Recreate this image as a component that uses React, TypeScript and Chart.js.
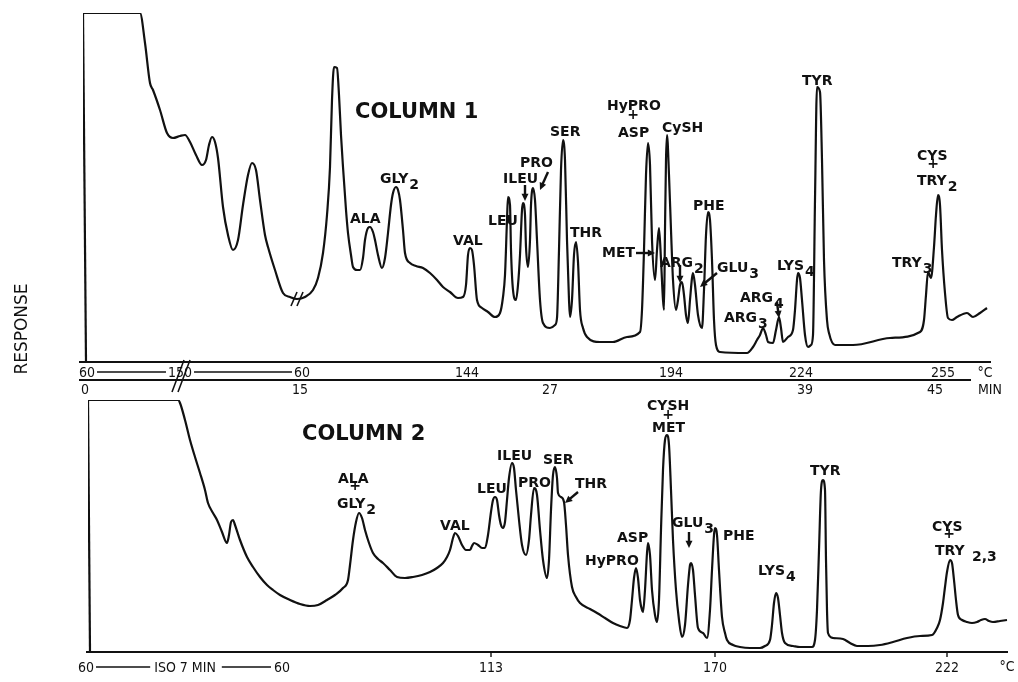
import React, { useEffect, useRef } from "react";
import { Chart, registerables } from "chart.js";

Chart.register(...registerables);

type Pt = [number, number];

// ---- Column 1 trace: [chart position, response] ----
const column1Pen: Pt[] = [[3, 0], [0, 349]];
const column1Trace: Pt[] = [
  [0, 349], [57, 349], [62, 319], [67, 279], [70, 272], [77, 252], [84, 229], [90, 224], [97, 226], [102, 227],
  [107, 220], [113, 207], [119, 197], [123, 202], [126, 217], [129, 225], [132, 220], [135, 204], [140, 155], [145, 127],
  [150, 112], [155, 122], [160, 157], [165, 187], [169, 199], [173, 192], [177, 162], [182, 127], [185, 115], [192, 92],
  [200, 69], [207, 65], [214, 63], [222, 65], [230, 72], [235, 84], [240, 109], [244, 147], [247, 195], [249, 262],
  [251, 295], [254, 294], [256, 267], [258, 227], [260, 195], [263, 152], [265, 129], [268, 107], [270, 95], [274, 92],
  [277, 92], [280, 104], [282, 122], [285, 134], [287, 135], [290, 130], [292, 122], [295, 107], [299, 94], [302, 104],
  [305, 129], [308, 157], [310, 169], [313, 175], [315, 172], [317, 162], [320, 132], [322, 109], [327, 99], [333, 96],
  [340, 94], [347, 89], [354, 82], [360, 75], [367, 70], [375, 64], [380, 65], [383, 77], [385, 107], [387, 114],
  [389, 112], [391, 97], [394, 62], [399, 54], [405, 50], [412, 45], [417, 49], [420, 65], [422, 87], [424, 142],
  [425, 165], [427, 157], [428, 112], [430, 72], [433, 62], [435, 77], [437, 107], [439, 152], [440, 159], [442, 147],
  [443, 115], [445, 95], [447, 122], [448, 157], [450, 174], [452, 162], [454, 122], [457, 62], [460, 39], [467, 34],
  [472, 37], [474, 44], [476, 112], [478, 192], [480, 222], [482, 202], [484, 122], [486, 62], [487, 45], [489, 62],
  [491, 107], [493, 120], [495, 100], [497, 52], [500, 34], [504, 25], [517, 20], [530, 20], [544, 25], [557, 30],
  [559, 52], [561, 112], [563, 187], [565, 219], [567, 197], [569, 122], [572, 82], [574, 112], [576, 134], [578, 102],
  [580, 62], [581, 52], [582, 132], [583, 202], [584, 227], [586, 187], [588, 132], [590, 82], [593, 52], [595, 62],
  [597, 77], [599, 80], [601, 67], [603, 47], [605, 39], [607, 62], [609, 84], [610, 89], [612, 77], [615, 47],
  [619, 34], [621, 72], [623, 127], [625, 150], [627, 142], [629, 102], [631, 42], [633, 17], [637, 10], [664, 9],
  [670, 15], [674, 22], [677, 27], [680, 34], [683, 27], [685, 20], [690, 19], [693, 32], [696, 45], [698, 34],
  [700, 20], [705, 25], [710, 32], [712, 52], [714, 82], [715, 89], [717, 84], [719, 62], [722, 27], [725, 15],
  [728, 17], [730, 27], [732, 162], [734, 275], [737, 270], [739, 202], [741, 102], [744, 42], [746, 29], [752, 17],
  [770, 17], [807, 24], [837, 30], [841, 42], [843, 67], [845, 90], [848, 84], [851, 115], [853, 147], [855, 167],
  [857, 157], [859, 112], [862, 69], [865, 44], [869, 42], [874, 45], [884, 49], [890, 45], [897, 49], [904, 54],
];

// ---- Column 2 trace ----
const column2Pen: Pt[] = [[2, 0], [0, 252]];
const column2Trace: Pt[] = [
  [0, 252], [90, 252], [92, 249], [97, 232], [102, 212], [107, 195], [112, 179], [117, 162], [120, 149], [125, 139],
  [129, 132], [134, 120], [139, 109], [141, 117], [143, 130], [145, 132], [147, 127], [152, 112], [159, 95], [165, 85],
  [172, 75], [179, 67], [185, 62], [192, 57], [202, 52], [212, 48], [222, 46], [230, 47], [239, 52], [247, 57],
  [255, 64], [260, 72], [262, 87], [265, 112], [268, 130], [271, 139], [274, 134], [277, 122], [281, 109], [285, 99],
  [290, 93], [295, 89], [302, 82], [309, 75], [317, 74], [325, 75], [334, 77], [342, 80], [349, 84], [355, 89],
  [359, 95], [362, 102], [365, 114], [367, 119], [370, 116], [374, 107], [378, 102], [382, 102], [384, 106], [386, 109],
  [390, 107], [394, 104], [397, 104], [400, 117], [403, 140], [405, 152], [407, 155], [409, 152], [411, 137], [413, 127],
  [415, 124], [417, 130], [419, 152], [421, 174], [424, 189], [426, 184], [428, 162], [431, 132], [434, 107], [438, 97],
  [441, 112], [443, 137], [446, 164], [449, 157], [452, 122], [455, 92], [459, 74], [461, 92], [463, 142], [465, 177],
  [467, 185], [469, 174], [470, 159], [473, 155], [476, 150], [478, 127], [480, 97], [484, 65], [488, 55], [492, 49],
  [502, 43], [509, 39], [517, 34], [525, 29], [532, 26], [539, 24], [542, 32], [544, 52], [546, 74], [548, 84],
  [550, 74], [552, 52], [554, 42], [555, 40], [557, 62], [559, 99], [560, 109], [562, 97], [564, 62], [567, 37],
  [569, 30], [571, 52], [573, 122], [575, 182], [577, 212], [579, 217], [581, 207], [583, 162], [585, 112], [588, 62],
  [591, 32], [594, 15], [597, 27], [600, 67], [602, 87], [603, 89], [605, 82], [607, 57], [610, 24], [615, 19],
  [619, 14], [622, 42], [624, 82], [626, 117], [627, 124], [629, 117], [631, 82], [634, 35], [637, 19], [639, 12],
  [645, 7], [652, 5], [662, 4], [672, 4], [677, 6], [682, 12], [684, 27], [686, 49], [688, 59], [690, 54],
  [692, 37], [694, 19], [697, 9], [705, 6], [712, 5], [724, 5], [727, 12], [729, 42], [731, 102], [733, 162],
  [735, 172], [737, 162], [738, 92], [739, 42], [740, 19], [745, 14], [755, 13], [762, 9], [769, 6], [780, 6],
  [792, 7], [805, 10], [819, 14], [832, 16], [844, 17], [849, 24], [852, 32], [855, 49], [857, 65], [859, 80],
  [862, 92], [864, 89], [866, 72], [868, 52], [870, 37], [874, 32], [879, 30], [884, 29], [889, 30], [893, 32],
  [897, 33], [901, 31], [905, 30], [912, 31], [919, 32],
];

// ---- Axis tick labels ----
const column1TempTicks = [4, 97, 219, 384, 588, 718, 860];
const column1TempLabels = ["60", "150", "60", "144", "194", "224", "255"];
const column1MinTicks = [2, 217, 467, 722, 852];
const column1MinLabels = ["0", "15", "27", "39", "45"];
const column2TempTicks = [-2, 194, 403, 627, 859];
const column2TempLabels = ["60", "60", "113", "170", "222"];

// ---- Peak annotations (text, x, y in data units; "_" marks a subscript) ----
type Lbl = { t: string; x: number; y: number; c?: boolean };
const column1Peaks: Lbl[] = [
  { t: "ALA", x: 267, y: 139 }, { t: "GLY_2", x: 297, y: 179 }, { t: "VAL", x: 370, y: 117 },
  { t: "LEU", x: 405, y: 137 }, { t: "ILEU", x: 420, y: 179 }, { t: "PRO", x: 437, y: 195 },
  { t: "SER", x: 467, y: 226 }, { t: "THR", x: 487, y: 125 }, { t: "HyPRO", x: 524, y: 252 },
  { t: "+", x: 550, y: 243, c: true }, { t: "ASP", x: 535, y: 225 }, { t: "CySH", x: 579, y: 230 },
  { t: "MET", x: 519, y: 105 }, { t: "ARG_2", x: 577, y: 95 }, { t: "GLU_3", x: 634, y: 90 },
  { t: "PHE", x: 610, y: 152 }, { t: "ARG_4", x: 657, y: 60 }, { t: "ARG_3", x: 641, y: 40 },
  { t: "LYS_4", x: 694, y: 92 }, { t: "TYR", x: 719, y: 277 }, { t: "TRY_3", x: 809, y: 95 },
  { t: "CYS", x: 834, y: 202 }, { t: "+", x: 850, y: 194, c: true }, { t: "TRY_2", x: 834, y: 177 },
];
const column1Arrows: number[][] = [
  [442, 177, 442, 161], [465, 190, 457, 172], [553, 109, 572, 109],
  [597, 97, 597, 79], [634, 89, 617, 75], [694, 60, 696, 44],
];
const column2Peaks: Lbl[] = [
  { t: "ALA", x: 250, y: 169 }, { t: "+", x: 267, y: 162, c: true }, { t: "GLY_2", x: 249, y: 144 },
  { t: "VAL", x: 352, y: 122 }, { t: "LEU", x: 389, y: 159 }, { t: "ILEU", x: 409, y: 192 },
  { t: "PRO", x: 430, y: 165 }, { t: "SER", x: 455, y: 188 }, { t: "THR", x: 487, y: 164 },
  { t: "HyPRO", x: 497, y: 87 }, { t: "ASP", x: 529, y: 110 }, { t: "CYSH", x: 559, y: 242 },
  { t: "+", x: 580, y: 233, c: true }, { t: "MET", x: 564, y: 220 }, { t: "GLU_3", x: 584, y: 125 },
  { t: "PHE", x: 635, y: 112 }, { t: "LYS_4", x: 670, y: 77 }, { t: "TYR", x: 722, y: 177 },
  { t: "CYS", x: 844, y: 121 }, { t: "+", x: 861, y: 114, c: true }, { t: "TRY", x: 847, y: 97 },
  { t: "2,3", x: 884, y: 91 },
];
const column2Arrows: number[][] = [
  [490, 160, 477, 149], [601, 120, 601, 104],
];

const LABEL_FONT = 'bold 14px "DejaVu Sans"';
const AXIS_FONT = '14px "DejaVu Sans Condensed", "DejaVu Sans"';
const INK = "#111";
const TRACE_W = 2.2;

function drawLabel(ctx: CanvasRenderingContext2D, text: string, px: number, py: number, centered?: boolean) {
  const [main, sub] = text.split("_");
  ctx.font = LABEL_FONT;
  ctx.textBaseline = "alphabetic";
  ctx.textAlign = centered ? "center" : "left";
  ctx.fillText(main, px, py);
  if (sub) {
    const w = ctx.measureText(main).width;
    ctx.textAlign = "left";
    ctx.fillText(sub, px + w + 1, py + 6);
  }
}

function drawArrow(ctx: CanvasRenderingContext2D, x1: number, y1: number, x2: number, y2: number) {
  const a = Math.atan2(y2 - y1, x2 - x1);
  ctx.lineWidth = 2.4;
  ctx.beginPath();
  ctx.moveTo(x1, y1);
  ctx.lineTo(x2 - 4 * Math.cos(a), y2 - 4 * Math.sin(a));
  ctx.stroke();
  ctx.beginPath();
  ctx.moveTo(x2, y2);
  ctx.lineTo(x2 - 8 * Math.cos(a - 0.45), y2 - 8 * Math.sin(a - 0.45));
  ctx.lineTo(x2 - 8 * Math.cos(a + 0.45), y2 - 8 * Math.sin(a + 0.45));
  ctx.closePath();
  ctx.fill();
}

function line(ctx: CanvasRenderingContext2D, x1: number, y1: number, x2: number, y2: number, w: number) {
  ctx.lineWidth = w;
  ctx.beginPath();
  ctx.moveTo(x1, y1);
  ctx.lineTo(x2, y2);
  ctx.stroke();
}

const overlay1 = {
  id: "overlay1",
  afterDatasetsDraw(chart: any) {
    const ctx: CanvasRenderingContext2D = chart.ctx;
    const X = (v: number) => chart.scales.x.getPixelForValue(v);
    const Y = (v: number) => chart.scales.y.getPixelForValue(v);
    ctx.save();
    ctx.fillStyle = INK;
    ctx.strokeStyle = INK;
    const y0 = Y(0);
    // temperature and time lines
    line(ctx, X(-4), y0, X(908), y0, 2);
    line(ctx, X(-4), y0 + 18, X(888), y0 + 18, 2);
    ctx.font = AXIS_FONT;
    ctx.textAlign = "center";
    ctx.textBaseline = "alphabetic";
    const widths: number[] = [];
    column1TempLabels.forEach((l, i) => {
      ctx.fillText(l, X(column1TempTicks[i]), y0 + 15);
      widths.push(ctx.measureText(l).width);
    });
    for (let i = 0; i < 2; i++) {
      const a = X(column1TempTicks[i]) + widths[i] / 2 + 2;
      const b = X(column1TempTicks[i + 1]) - widths[i + 1] / 2 - 2;
      line(ctx, a, y0 + 10, b, y0 + 10, 1.4);
    }
    ctx.fillText("°C", X(902), y0 + 15);
    column1MinLabels.forEach((l, i) => ctx.fillText(l, X(column1MinTicks[i]), y0 + 32));
    ctx.fillText("MIN", X(907), y0 + 32);
    // axis break marks
    for (const k of [0, 6]) line(ctx, X(89) + k, y0 + 30, X(101) + k, y0 - 2, 1.6);
    // trace break marks
    for (const k of [-3, 3]) line(ctx, X(214) + k - 3, Y(63) + 7, X(214) + k + 3, Y(63) - 7, 1.6);
    // title
    ctx.font = 'bold 21px "DejaVu Sans"';
    ctx.textAlign = "left";
    ctx.fillText("COLUMN 1", X(272), Y(244));
    column1Peaks.forEach((p) => drawLabel(ctx, p.t, X(p.x), Y(p.y), p.c));
    column1Arrows.forEach((a) => drawArrow(ctx, X(a[0]), Y(a[1]), X(a[2]), Y(a[3])));
    // response axis title
    ctx.save();
    ctx.translate(X(0) - 62, Y(33));
    ctx.rotate(-Math.PI / 2);
    ctx.font = '17px "DejaVu Sans"';
    ctx.textAlign = "center";
    ctx.fillText("RESPONSE", 0, 6);
    ctx.restore();
    ctx.restore();
  },
};

const overlay2 = {
  id: "overlay2",
  afterDatasetsDraw(chart: any) {
    const ctx: CanvasRenderingContext2D = chart.ctx;
    const X = (v: number) => chart.scales.x.getPixelForValue(v);
    const Y = (v: number) => chart.scales.y.getPixelForValue(v);
    ctx.save();
    ctx.fillStyle = INK;
    ctx.strokeStyle = INK;
    const y0 = Y(0);
    line(ctx, X(-2), y0, X(920), y0, 2);
    ctx.font = AXIS_FONT;
    ctx.textAlign = "center";
    ctx.textBaseline = "alphabetic";
    column2TempLabels.forEach((l, i) => {
      ctx.fillText(l, X(column2TempTicks[i]), y0 + 20);
      if (i >= 2) line(ctx, X(column2TempTicks[i]), y0, X(column2TempTicks[i]), y0 + 5, 1.4);
    });
    ctx.fillText("°C", X(919), y0 + 19);
    const isoX = X(97);
    ctx.fillText("ISO 7 MIN", isoX, y0 + 20);
    const isoW = ctx.measureText("ISO 7 MIN").width;
    const w60 = ctx.measureText("60").width;
    line(ctx, X(column2TempTicks[0]) + w60 / 2 + 2, y0 + 15, isoX - isoW / 2 - 4, y0 + 15, 1.4);
    line(ctx, isoX + isoW / 2 + 6, y0 + 15, X(column2TempTicks[1]) - w60 / 2 - 3, y0 + 15, 1.4);
    ctx.font = 'bold 21px "DejaVu Sans"';
    ctx.textAlign = "left";
    ctx.fillText("COLUMN 2", X(214), Y(212));
    column2Peaks.forEach((p) => drawLabel(ctx, p.t, X(p.x), Y(p.y), p.c));
    column2Arrows.forEach((a) => drawArrow(ctx, X(a[0]), Y(a[1]), X(a[2]), Y(a[3])));
    ctx.restore();
  },
};

function makeConfig(pen: Pt[], trace: Pt[], pad: any, xMax: number, yMax: number, plugin: any): any {
  const toXY = (arr: Pt[]) => arr.map(([x, y]) => ({ x, y }));
  return {
    type: "line",
    data: {
      datasets: [
        { data: toXY(pen), borderColor: INK, borderWidth: TRACE_W, pointRadius: 0, tension: 0, fill: false },
        {
          data: toXY(trace),
          borderColor: INK,
          borderWidth: TRACE_W,
          pointRadius: 0,
          cubicInterpolationMode: "monotone",
          fill: false,
        },
      ],
    },
    options: {
      responsive: false,
      maintainAspectRatio: false,
      animation: false,
      events: [],
      layout: { padding: pad },
      scales: {
        x: { type: "linear", display: false, min: 0, max: xMax },
        y: { type: "linear", display: false, min: 0, max: yMax },
      },
      plugins: { legend: { display: false }, tooltip: { enabled: false } },
    },
    plugins: [plugin],
  };
}

export default function App() {
  const topRef = useRef<HTMLCanvasElement>(null);
  const botRef = useRef<HTMLCanvasElement>(null);
  useEffect(() => {
    const c1 = new Chart(
      topRef.current as HTMLCanvasElement,
      makeConfig(column1Pen, column1Trace, { left: 83, right: 5, top: 13, bottom: 320 }, 930, 349, overlay1)
    );
    const c2 = new Chart(
      botRef.current as HTMLCanvasElement,
      makeConfig(column2Pen, column2Trace, { left: 88, right: 10, top: 400, bottom: 30 }, 920, 252, overlay2)
    );
    return () => {
      c1.destroy();
      c2.destroy();
    };
  }, []);
  const cs: React.CSSProperties = { position: "absolute", left: 0, top: 0, width: 1018, height: 682 };
  return (
    <div style={{ position: "absolute", left: 0, top: 0, width: 1018, height: 682, background: "#fff" }}>
      <canvas ref={topRef} width={1018} height={682} style={cs} />
      <canvas ref={botRef} width={1018} height={682} style={cs} />
    </div>
  );
}
